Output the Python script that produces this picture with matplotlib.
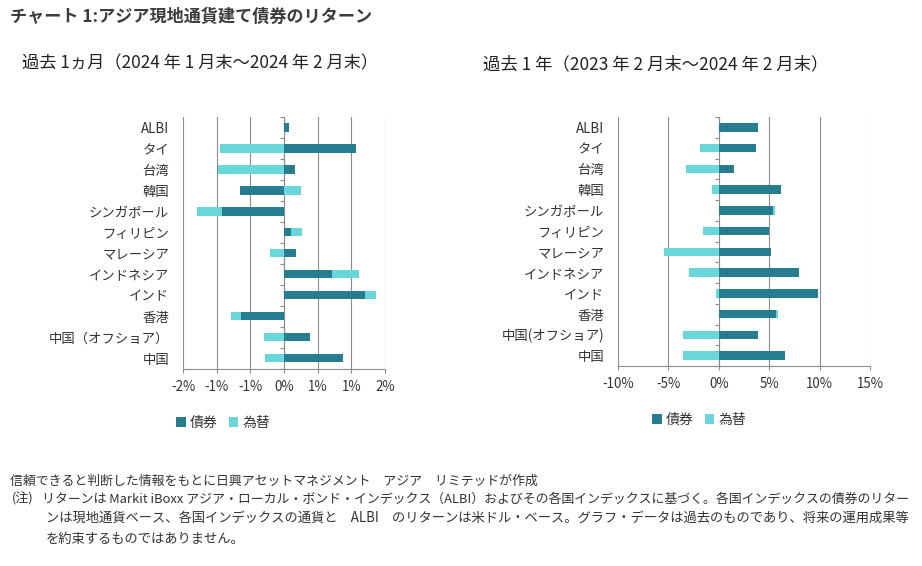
import numpy as np
import matplotlib
matplotlib.use("Agg")
import matplotlib.pyplot as plt

plt.rcParams["font.family"] = ["Noto Sans CJK JP", "DejaVu Sans"]

# データ（グラフから読み取り、単位は％）
categories = ["ALBI", "タイ", "台湾", "韓国", "シンガポール", "フィリピン", "マレーシア",
              "インドネシア", "インド", "香港", "中国（オフショア）", "中国"]
# 右のグラフは括弧が半角
categories_1y = categories[:10] + ["中国(オフショア)", "中国"]

bond_1m = [0.07, 1.07, 0.16, -0.66, -0.92, 0.11, 0.18, 0.71, 1.21, -0.64, 0.38, 0.88]
fx_1m = [0.0, -0.95, -0.98, 0.25, -0.37, 0.15, -0.21, 0.41, 0.15, -0.15, -0.29, -0.28]

bond_1y = [3.93, 3.73, 1.5, 6.17, 5.33, 5.0, 5.2, 8.0, 9.87, 5.67, 3.9, 6.6]
fx_1y = [0.0, -1.9, -3.27, -0.63, 0.2, -1.6, -5.43, -2.93, -0.3, 0.17, -3.53, -3.57]

ticks_1m = [-1.5, -1.0, -0.5, 0, 0.5, 1.0, 1.5]
ticklabels_1m = ["-2%", "-1%", "-1%", "0%", "1%", "1%", "2%"]
ticks_1y = [-10, -5, 0, 5, 10, 15]
ticklabels_1y = ["-10%", "-5%", "0%", "5%", "10%", "15%"]

series_names = ["債券", "為替"]

DARK = "#267D8F"
LIGHT = "#69D6D9"
GRID = "#8c8c8c"
TXT = "#333333"

W, H = 922, 566
fig = plt.figure(figsize=(W / 100, H / 100), dpi=100)


def box(x0, y0, x1, y1):
    # pixel box -> figure fraction
    return [x0 / W, 1 - y1 / H, (x1 - x0) / W, (y1 - y0) / H]


def draw_panel(ax, bond, fx, labels, ticks, ticklabels, legend_x, legend_y):
    bond = np.array(bond)
    fx = np.array(fx)
    y = np.arange(len(labels))
    # Excel風の積み上げ（正・負を別々に積む）
    fx_left = np.where(np.sign(fx) == np.sign(bond), bond, 0)
    b1 = ax.barh(y, bond, height=0.4, color=DARK, zorder=3)
    b2 = ax.barh(y, fx, left=fx_left, height=0.4, color=LIGHT, zorder=3)

    ax.set_xlim(ticks[0], ticks[-1])
    ax.set_ylim(len(labels) - 0.5, -0.5)
    ax.set_xticks(ticks)
    ax.set_xticklabels(ticklabels)
    ax.set_yticks(y)
    ax.set_yticklabels(labels)
    ax.tick_params(axis="y", length=0, pad=10, labelsize=9.6, labelcolor=TXT)
    ax.tick_params(axis="x", length=3, width=0.8, color=GRID, pad=5,
                   labelsize=9.6, labelcolor=TXT)
    ax.grid(axis="x", color=GRID, lw=0.8)
    ax.set_axisbelow(True)
    for s in ["top", "right", "left"]:
        ax.spines[s].set_visible(False)
    ax.spines["bottom"].set_color(GRID)
    ax.spines["bottom"].set_linewidth(0.8)

    # 0% の縦軸線と区切り目盛
    zero_pos = (0 - ticks[0]) / (ticks[-1] - ticks[0])
    sec = ax.secondary_yaxis(zero_pos)
    sec.set_alignment("left")
    sec.set_yticks(np.arange(-0.5, len(labels), 1))
    sec.tick_params(length=3, width=0.8, color=GRID, labelleft=False, labelright=False)
    sec.spines["left"].set_color(GRID)
    sec.spines["left"].set_linewidth(0.8)
    sec.spines["left"].set_zorder(2)

    ax.legend([b1, b2], series_names, loc="center left",
              bbox_to_anchor=(legend_x / W, 1 - legend_y / H),
              bbox_transform=fig.transFigure, ncol=2, frameon=False,
              fontsize=10, handlelength=0.7, handleheight=0.7,
              handletextpad=0.3, columnspacing=0.8, borderpad=0,
              borderaxespad=0, labelcolor=TXT)


ax1 = fig.add_axes(box(183, 117, 385, 368.5))
draw_panel(ax1, bond_1m, fx_1m, categories, ticks_1m, ticklabels_1m, 176, 423)

ax2 = fig.add_axes(box(618, 117, 870, 366))
draw_panel(ax2, bond_1y, fx_1y, categories_1y, ticks_1y, ticklabels_1y, 652, 420)

# タイトル類
fig.text(10 / W, 1 - 17 / H, "チャート 1:アジア現地通貨建て債券のリターン",
         fontsize=12.3, fontweight="bold", color="#3c3c3c", va="center")
sub1 = fig.text(22 / W, 1 - 63 / H, "過去 1ヵ月（2024 年 1 月末～2024 年 2 月末）",
                fontsize=12, color="#222222", va="center")
sub2 = fig.text(483 / W, 1 - 64 / H, "過去 1 年（2023 年 2 月末～2024 年 2 月末）",
                fontsize=12, color="#222222", va="center")

# 注記
fs = 9.3
fig.text(10 / W, 1 - 481 / H,
         "信頼できると判断した情報をもとに日興アセットマネジメント　アジア　リミテッドが作成",
         fontsize=fs, color=TXT, va="center")
fig.text(12 / W, 1 - 499 / H, "(注)", fontsize=fs, color=TXT, va="center")
note2 = fig.text(42 / W, 1 - 499 / H,
                 "リターンは Markit iBoxx アジア・ローカル・ボンド・インデックス（ALBI）およびその各国インデックスに基づく。各国インデックスの債券のリター",
                 fontsize=fs, color=TXT, va="center")
note3 = fig.text(46 / W, 1 - 518 / H,
                 "ンは現地通貨ベース、各国インデックスの通貨と　ALBI　のリターンは米ドル・ベース。グラフ・データは過去のものであり、将来の運用成果等",
                 fontsize=fs, color=TXT, va="center")
note4 = fig.text(46 / W, 1 - 539 / H, "を約束するものではありません。",
                 fontsize=fs, color=TXT, va="center")

# 行の幅を元の図に合わせる（両端揃えの代わり）
fig.canvas.draw()
renderer = fig.canvas.get_renderer()
for t, right in [(sub1, 378), (sub2, 828), (note2, 910), (note3, 907)]:
    bb = t.get_window_extent(renderer)
    t.set_fontsize(t.get_fontsize() * (right - bb.x0) / bb.width)
note4.set_fontsize(note3.get_fontsize())

fig.savefig("out.png", dpi=100, facecolor="white")
